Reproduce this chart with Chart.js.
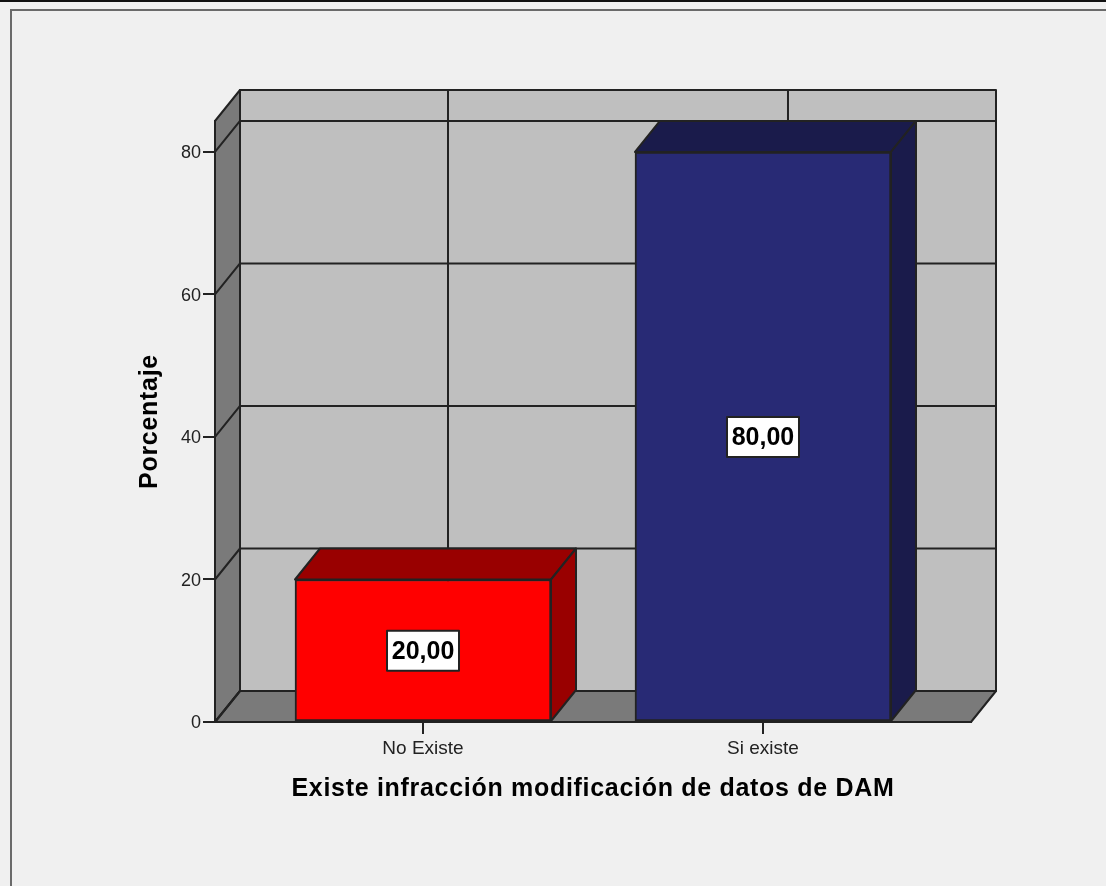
<!DOCTYPE html>
<html>
<head>
<meta charset="utf-8">
<style>
  html, body { margin: 0; padding: 0; background: #f0f0f0; }
  #wrap { position: relative; width: 1106px; height: 886px; overflow: hidden; }
  #topline { position: absolute; left: 0; top: 0; width: 1106px; height: 2px; background: #111; }
  #frame { position: absolute; left: 10px; top: 9px; width: 1100px; height: 890px; border: 2px solid #6a6a6a; }
  canvas { position: absolute; left: 0; top: 0; }
</style>
</head>
<body>
<div id="wrap">
  <div id="topline"></div>
  <div id="frame"></div>
  <canvas id="chart" width="1106" height="886"></canvas>
</div>
<script src="https://cdn.jsdelivr.net/npm/chart.js@4"></script>
<script>
// SPSS style 3D bar chart: walls and depth faces are drawn by a small plugin
const categories = ["No Existe", "Si existe"];
const percentages = [20, 80];
const valueLabels = ["20,00", "80,00"];
const yTicks = [0, 20, 40, 60, 80];

const depthX = 25;
const depthY = 31;
const lineColor = "#222222";
const wallColor = "#bfbfbf";
const floorColor = "#7a7a7a";
const barColors = ["#ff0000", "#282a75"];
const barShade = ["#990000", "#1a1b4b"];
const fontName = "'Liberation Sans', Arial, sans-serif";

function poly(ctx, pts, fill) {
  ctx.beginPath();
  pts.forEach((p, i) => (i ? ctx.lineTo(p[0], p[1]) : ctx.moveTo(p[0], p[1])));
  ctx.closePath();
  if (fill) {
    ctx.fillStyle = fill;
    ctx.fill();
  }
  ctx.stroke();
}

// the axis titles in the reference are slightly letter-spaced
function spaceTitle(scale) {
  if (scale._spaced) return;
  scale._spaced = true;
  const drawTitle = scale.drawTitle;
  scale.drawTitle = function () {
    const ctx = this.ctx;
    ctx.save();
    ctx.letterSpacing = "0.7px";
    drawTitle.apply(this, arguments);
    ctx.restore();
  };
}

const walls3d = {
  id: "walls3d",
  beforeDraw(chart) {
    const { ctx, chartArea: a, scales } = chart;
    const y = scales.y;
    const x = scales.x;
    spaceTitle(x);
    spaceTitle(y);
    ctx.save();
    ctx.strokeStyle = lineColor;
    ctx.lineWidth = 2;
    ctx.lineJoin = "round";
    // back wall, left side wall and floor
    poly(ctx, [[a.left + depthX, a.top - depthY], [a.right + depthX, a.top - depthY], [a.right + depthX, a.bottom - depthY], [a.left + depthX, a.bottom - depthY]], wallColor);
    poly(ctx, [[a.left, a.bottom], [a.left + depthX, a.bottom - depthY], [a.left + depthX, a.top - depthY], [a.left, a.top]], floorColor);
    poly(ctx, [[a.left, a.bottom], [a.left + depthX, a.bottom - depthY], [a.right + depthX, a.bottom - depthY], [a.right, a.bottom]], floorColor);
    // gridlines run along the side wall, then across the back
    yTicks.forEach((v) => {
      const py = y.getPixelForValue(v);
      ctx.beginPath();
      ctx.moveTo(a.left, py);
      ctx.lineTo(a.left + depthX, py - depthY);
      ctx.lineTo(a.right + depthX, py - depthY);
      ctx.stroke();
    });
    categories.forEach((_, i) => {
      const px = x.getPixelForValue(i) + depthX;
      ctx.beginPath();
      ctx.moveTo(px, a.top - depthY);
      ctx.lineTo(px, a.bottom - depthY);
      ctx.stroke();
    });
    ctx.restore();
  },
  afterDatasetsDraw(chart) {
    const { ctx, scales } = chart;
    const meta = chart.getDatasetMeta(0);
    ctx.save();
    ctx.strokeStyle = lineColor;
    ctx.lineWidth = 2;
    ctx.lineJoin = "round";
    meta.data.forEach((bar, i) => {
      const l = bar.x - bar.width / 2;
      const r = bar.x + bar.width / 2;
      const t = bar.y;
      const b = bar.base;
      poly(ctx, [[l, t], [l + depthX, t - depthY], [r + depthX, t - depthY], [r, t]], barShade[i]);
      poly(ctx, [[r, t], [r + depthX, t - depthY], [r + depthX, b - depthY], [r, b]], barShade[i]);

      // value label box in the middle of the bar
      const cy = scales.y.getPixelForValue(percentages[i] / 2);
      ctx.fillStyle = "#fff";
      ctx.fillRect(bar.x - 36, cy - 20, 72, 40);
      ctx.strokeRect(bar.x - 36, cy - 20, 72, 40);
      ctx.fillStyle = "#000";
      ctx.font = "bold 25px " + fontName;
      ctx.textAlign = "center";
      ctx.textBaseline = "middle";
      ctx.fillText(valueLabels[i], bar.x, cy + 1);
    });
    ctx.restore();
  }
};

new Chart(document.getElementById("chart"), {
  type: "bar",
  data: {
    datasets: [{
      data: percentages.map((v, i) => ({ x: i, y: v })),
      backgroundColor: barColors,
      borderColor: lineColor,
      borderWidth: 2,
      borderSkipped: false,
      barThickness: 256
    }]
  },
  plugins: [walls3d],
  options: {
    responsive: false,
    animation: false,
    layout: { padding: { top: 121, right: 135, left: 0, bottom: 0 } },
    plugins: { legend: { display: false }, tooltip: { enabled: false } },
    scales: {
      x: {
        type: "linear",
        offset: false,
        min: -0.6118,
        max: 1.6118,
        afterBuildTicks(scale) {
          scale.ticks = categories.map((_, i) => ({ value: i }));
        },
        afterFit(scale) { scale.height = 164; },
        grid: { offset: false, drawOnChartArea: false, color: lineColor, lineWidth: 2, tickLength: 12 },
        border: { color: lineColor, width: 2 },
        ticks: {
          color: "#222",
          font: { family: fontName, size: 19 },
          padding: 3,
          maxRotation: 0,
          autoSkip: false,
          callback: (v) => categories[v]
        },
        title: {
          display: true,
          text: "Existe infracción modificación de datos de DAM",
          color: "#000",
          font: { family: fontName, size: 25, weight: "bold" },
          padding: { top: 0, bottom: 82 }
        }
      },
      y: {
        min: 0,
        max: 84.35,
        afterFit(scale) { scale.width = 215; },
        grid: { drawOnChartArea: false, color: lineColor, lineWidth: 2, tickLength: 12 },
        border: { color: lineColor, width: 2 },
        ticks: {
          stepSize: 20,
          includeBounds: false,
          color: "#222",
          font: { family: fontName, size: 18 },
          padding: 2,
          labelOffset: 1.5
        },
        title: {
          display: true,
          text: "Porcentaje",
          color: "#000",
          font: { family: fontName, size: 25, weight: "bold" },
          padding: { top: 135, bottom: 0 }
        }
      }
    }
  }
});
</script>
</body>
</html>
